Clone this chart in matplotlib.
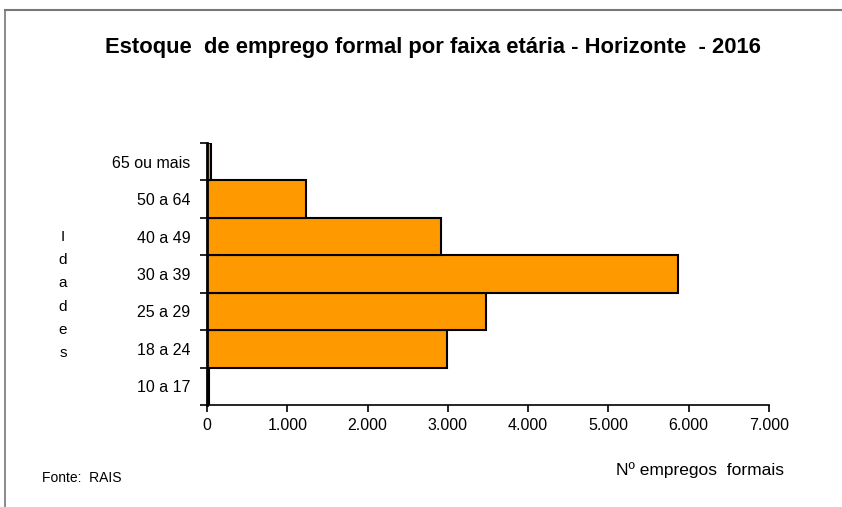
import numpy as np
import matplotlib.pyplot as plt
from matplotlib.lines import Line2D

# faixas etarias (de baixo para cima) e numero de empregos formais
faixas = ['10 a 17', '18 a 24', '25 a 29', '30 a 39', '40 a 49', '50 a 64', '65 ou mais']
empregos = [30, 2990, 3470, 5865, 2915, 1235, 45]
xticks = [0, 1000, 2000, 3000, 4000, 5000, 6000, 7000]
xlabels = ['0', '1.000', '2.000', '3.000', '4.000', '5.000', '6.000', '7.000']

plt.rcParams['font.family'] = ['Liberation Sans', 'DejaVu Sans']

fig = plt.figure(figsize=(8.42, 5.07), dpi=100)
ax = fig.add_axes([207/842, 1-405/507, (769-207)/842, (405-143)/507])

y = np.arange(len(faixas))
ax.barh(y, empregos, height=1.0, color='#FF9900', edgecolor='black', linewidth=1.5)

ax.set_xlim(0, 7000)
ax.set_ylim(-0.5, len(faixas)-0.5)
ax.set_xticks(xticks)
ax.set_xticklabels(xlabels, fontsize=11.5)
ax.set_yticks(y)
ax.set_yticklabels(faixas, fontsize=11.5)
ax.set_yticks(np.arange(len(faixas)+1) - 0.5, minor=True)
ax.tick_params(axis='y', which='major', length=0, pad=12)
ax.tick_params(axis='y', which='minor', length=5, width=1.2, direction='out')
ax.tick_params(axis='x', length=5, width=1.2, direction='out', pad=4)

for s in ['top', 'right']:
    ax.spines[s].set_visible(False)
ax.spines['left'].set_linewidth(2)
ax.spines['bottom'].set_linewidth(1.2)

fig.text(433/842, 1-47/507, 'Estoque  de emprego formal por faixa etária - Horizonte  - 2016',
         ha='center', va='center', fontsize=15.8, fontweight='bold')
fig.text(63/842, 1-295/507, '\n'.join('Idades'), ha='center', va='center',
         fontsize=11, linespacing=1.85)
fig.text(42/842, 1-478/507, 'Fonte:  RAIS', ha='left', va='center', fontsize=10)
fig.text(700/842, 1-470/507, 'Nº empregos  formais', ha='center', va='center', fontsize=12.5)

# moldura (so topo e esquerda visiveis)
fig.add_artist(Line2D([5/842, 1], [1-10/507, 1-10/507], color='#777777', lw=1.5))
fig.add_artist(Line2D([5/842, 5/842], [0, 1-10/507], color='#777777', lw=1.2))

fig.savefig('out.png', dpi=100)
